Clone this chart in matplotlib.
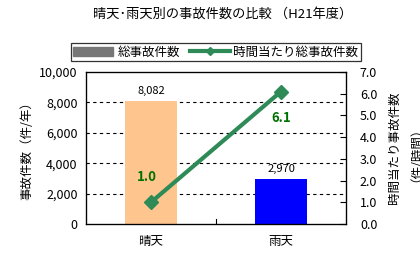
import matplotlib
matplotlib.use("Agg")
import matplotlib.pyplot as plt
from matplotlib.lines import Line2D
from matplotlib.patches import Patch
import numpy as np

plt.rcParams['font.family'] = ['Noto Sans CJK JP', 'DejaVu Sans']

categories = ['晴天', '雨天']
total_accidents = [8082, 2970]
per_hour = [1.0, 6.1]
bar_colors = ['#FFC58F', '#0000FF']
line_color = '#2E8B57'

fig = plt.figure(figsize=(4.2, 2.57), dpi=100)
ax = fig.add_axes([86/420, 1-224/257, 260/420, 152/257])
x = np.arange(len(categories))
ax.bar(x, total_accidents, width=0.4, color=bar_colors, zorder=2)
ax.set_xlim(-0.5, 1.5)
ax.set_ylim(0, 10000)
ax.set_yticks(range(0, 10001, 2000))
ax.set_yticklabels([f'{v:,}' for v in range(0, 10001, 2000)], fontsize=9)
ax.tick_params(axis='y', length=0, pad=6)
ax.set_xticks(x)
ax.set_xticklabels(categories, fontsize=9)
ax.tick_params(axis='x', length=0, pad=8)
ax.axvline(0.5, ymin=0, ymax=0.03, color='black', lw=0.8)
for v in range(2000, 10000, 2000):
    ax.axhline(v, color='black', lw=0.8, ls=(0, (3, 3)), zorder=1)
for xi, v in zip(x, total_accidents):
    ax.text(xi, v + 350, f'{v:,}', ha='center', va='bottom', fontsize=8)
ax.set_ylabel('事故件数（件/年）', fontsize=9, labelpad=4)
for s in ax.spines.values():
    s.set_linewidth(0.9)

ax2 = ax.twinx()
ax2.plot(x, per_hour, color=line_color, lw=3, marker='D', markersize=7, zorder=3)
ax2.set_ylim(0, 7)
ax2.set_yticks(np.arange(0, 7.01, 1.0))
ax2.set_yticklabels([f'{v:.1f}' for v in np.arange(0, 7.01, 1.0)], fontsize=9)
ax2.tick_params(axis='y', direction='in', length=4, pad=10)
ax2.text(x[0] - 0.03, per_hour[0] + 1.15, f'{per_hour[0]:.1f}', color='#007000',
         fontsize=9.5, fontweight='bold', ha='center', va='center')
ax2.text(x[1], per_hour[1] - 1.2, f'{per_hour[1]:.1f}', color='#007000',
         fontsize=9.5, fontweight='bold', ha='center', va='center')
ax2.set_ylabel('時間当たり事故件数\n（件/時間）', fontsize=9, rotation=90,
               linespacing=1.2)
ax2.yaxis.set_label_coords((402 - 86) / 260, 0.5)
ax2.yaxis.label.set_verticalalignment('center')
ax2.yaxis.label.set_horizontalalignment('center')

fig.text(223/420, 1-14/257, '晴天･雨天別の事故件数の比較 （H21年度）', ha='center',
         va='center', fontsize=9.5)

handles = [Patch(color='#777777'),
           Line2D([0], [0], color=line_color, lw=3, marker='D', markersize=4)]
leg = fig.legend(handles, ['総事故件数', '時間当たり総事故件数'], loc='center',
                 bbox_to_anchor=(216/420, 1-52/257), ncol=2, fontsize=9,
                 frameon=True, fancybox=False, edgecolor='black', handlelength=3.2,
                 handletextpad=0.3, columnspacing=0.8, borderpad=0.2)
leg.get_frame().set_linewidth(0.9)

fig.savefig('out.png', dpi=100)
